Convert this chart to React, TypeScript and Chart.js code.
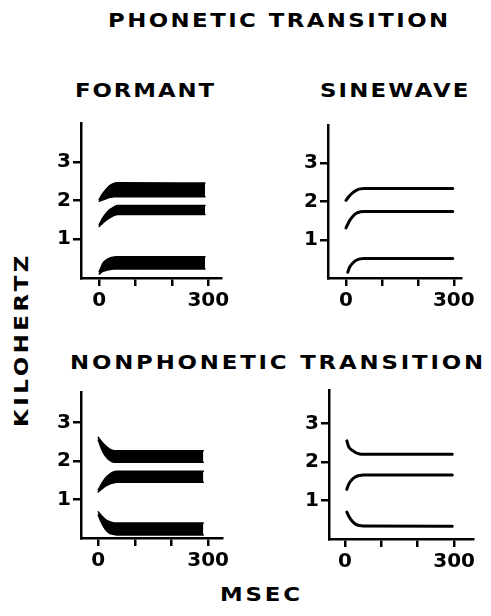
import React, { useEffect, useRef } from "react";
import { Chart, registerables } from "chart.js";

Chart.register(...registerables);

// ---- time bases (ms) ----
const PH_FORMANT_MS = [0, 10, 20, 30, 40, 50, 291];
const PH_SINE_MS = [0, 10, 20, 30, 40, 50, 297];
const PH_SINE_F1_MS = [5, 10, 20, 30, 40, 50, 297];
const NP_FORMANT_MS = [0, 10, 20, 30, 40, 50, 287];
const NP_SINE_MS = [5, 10, 20, 30, 40, 50, 295];

// ---- phonetic transition, formant bands (kHz, upper / lower edge) ----
const PH_F3_HI = [2.03, 2.18, 2.3, 2.39, 2.44, 2.46, 2.45];
const PH_F3_LO = [1.98, 2.02, 2.05, 2.08, 2.1, 2.1, 2.1];
const PH_F2_HI = [1.38, 1.55, 1.68, 1.77, 1.83, 1.87, 1.87];
const PH_F2_LO = [1.33, 1.42, 1.5, 1.56, 1.61, 1.64, 1.64];
const PH_F1_HI = [0.16, 0.38, 0.47, 0.52, 0.54, 0.55, 0.55];
const PH_F1_LO = [0.1, 0.17, 0.2, 0.22, 0.23, 0.23, 0.23];

// ---- phonetic transition, sinewave tones (kHz) ----
const PH_TONE3 = [2.03, 2.15, 2.24, 2.3, 2.33, 2.34, 2.34];
const PH_TONE2 = [1.31, 1.5, 1.62, 1.7, 1.73, 1.74, 1.74];
const PH_TONE1 = [0.15, 0.28, 0.4, 0.47, 0.5, 0.51, 0.51];

// ---- nonphonetic transition, formant bands (kHz) ----
const NP_F3_HI = [2.62, 2.5, 2.4, 2.32, 2.28, 2.27, 2.27];
const NP_F3_LO = [2.55, 2.3, 2.13, 2.03, 1.98, 1.97, 1.97];
const NP_F2_HI = [1.25, 1.42, 1.56, 1.65, 1.71, 1.74, 1.74];
const NP_F2_LO = [1.2, 1.28, 1.35, 1.4, 1.43, 1.45, 1.45];
const NP_F1_HI = [0.68, 0.57, 0.48, 0.43, 0.4, 0.39, 0.39];
const NP_F1_LO = [0.6, 0.38, 0.22, 0.13, 0.1, 0.08, 0.08];

// ---- nonphonetic transition, sinewave tones (kHz) ----
const NP_TONE3 = [2.55, 2.4, 2.3, 2.24, 2.21, 2.2, 2.2];
const NP_TONE2 = [1.29, 1.42, 1.55, 1.62, 1.65, 1.66, 1.66];
const NP_TONE1 = [0.7, 0.6, 0.46, 0.38, 0.35, 0.34, 0.33];

// ---- axis ticks ----
const X_TICKS = [0, 100, 200, 300];
const X_TICK_LABELS = ["0", "", "", "300"];
const Y_TICKS = [1, 2, 3];
const Y_TICK_LABELS = ["1", "2", "3"];

const FONT = "'DejaVu Sans', 'Liberation Sans', sans-serif";
const PAD_TOP = 16;
const PAD_RIGHT = 30;
const Y_AXIS_W = 40;
const X_AXIS_H = 40;

type Curve = { kind: "band"; ms: number[]; hi: number[]; lo: number[] } | { kind: "tone"; ms: number[]; f: number[] };

type Panel = {
  area: { left: number; top: number; right: number; bottom: number };
  xMin: number;
  xMax: number;
  yMax: number;
  curves: Curve[];
};

const zip = (ms: number[], f: number[]) => ms.map((x, i) => ({ x, y: f[i] }));

const PANELS: Panel[] = [
  {
    area: { left: 81, top: 123, right: 221, bottom: 278 },
    xMin: -50, xMax: 335, yMax: 4,
    curves: [
      { kind: "band", ms: PH_FORMANT_MS, hi: PH_F3_HI, lo: PH_F3_LO },
      { kind: "band", ms: PH_FORMANT_MS, hi: PH_F2_HI, lo: PH_F2_LO },
      { kind: "band", ms: PH_FORMANT_MS, hi: PH_F1_HI, lo: PH_F1_LO },
    ],
  },
  {
    area: { left: 328, top: 125, right: 461, bottom: 278 },
    xMin: -50, xMax: 320, yMax: 4,
    curves: [
      { kind: "tone", ms: PH_SINE_MS, f: PH_TONE3 },
      { kind: "tone", ms: PH_SINE_MS, f: PH_TONE2 },
      { kind: "tone", ms: PH_SINE_F1_MS, f: PH_TONE1 },
    ],
  },
  {
    area: { left: 81, top: 392, right: 222, bottom: 538 },
    xMin: -47, xMax: 338, yMax: 3.8,
    curves: [
      { kind: "band", ms: NP_FORMANT_MS, hi: NP_F3_HI, lo: NP_F3_LO },
      { kind: "band", ms: NP_FORMANT_MS, hi: NP_F2_HI, lo: NP_F2_LO },
      { kind: "band", ms: NP_FORMANT_MS, hi: NP_F1_HI, lo: NP_F1_LO },
    ],
  },
  {
    area: { left: 329, top: 390, right: 473, bottom: 539 },
    xMin: -44, xMax: 352, yMax: 3.87,
    curves: [
      { kind: "tone", ms: NP_SINE_MS, f: NP_TONE3 },
      { kind: "tone", ms: NP_SINE_MS, f: NP_TONE2 },
      { kind: "tone", ms: NP_SINE_MS, f: NP_TONE1 },
    ],
  },
];

function buildDatasets(curves: Curve[]) {
  const sets: any[] = [];
  for (const c of curves) {
    if (c.kind === "band") {
      sets.push({
        data: zip(c.ms, c.hi),
        fill: "+1",
        backgroundColor: "#000",
        borderColor: "#000",
        borderWidth: 1.5,
        borderJoinStyle: "round",
        borderCapStyle: "round",
        pointRadius: 0,
        cubicInterpolationMode: "monotone",
      });
      sets.push({
        data: zip(c.ms, c.lo),
        fill: false,
        borderColor: "#000",
        borderWidth: 1.5,
        borderCapStyle: "round",
        pointRadius: 0,
        cubicInterpolationMode: "monotone",
      });
    } else {
      sets.push({
        data: zip(c.ms, c.f),
        fill: false,
        borderColor: "#000",
        borderWidth: 3,
        borderCapStyle: "round",
        pointRadius: 0,
        cubicInterpolationMode: "monotone",
      });
    }
  }
  return sets;
}

function PanelChart({ panel }: { panel: Panel }) {
  const ref = useRef<HTMLCanvasElement>(null);
  const { left, top, right, bottom } = panel.area;
  const width = right - left + Y_AXIS_W + PAD_RIGHT;
  const height = bottom - top + PAD_TOP + X_AXIS_H;

  useEffect(() => {
    if (!ref.current) return;
    const tickFont = { family: FONT, size: 20, weight: "bold" as const };
    const chart = new Chart(ref.current, {
      type: "line",
      data: { datasets: buildDatasets(panel.curves) },
      options: {
        animation: false,
        responsive: false,
        devicePixelRatio: 1,
        layout: { padding: { top: PAD_TOP, right: PAD_RIGHT, left: 0, bottom: 0 } },
        plugins: { legend: { display: false }, tooltip: { enabled: false } },
        elements: { line: { tension: 0.4 } },
        scales: {
          x: {
            type: "linear",
            min: panel.xMin,
            max: panel.xMax,
            afterBuildTicks: (scale: any) => {
              scale.ticks = X_TICKS.map((v) => ({ value: v }));
            },
            afterFit: (scale: any) => {
              scale.height = X_AXIS_H;
            },
            ticks: {
              autoSkip: false,
              maxRotation: 0,
              padding: 3,
              color: "#000",
              font: tickFont,
              callback: (_v: any, i: number) => X_TICK_LABELS[i],
            },
            grid: { drawOnChartArea: false, drawTicks: true, tickLength: 8, color: "#000", lineWidth: 2.5 },
            border: { display: true, color: "#000", width: 2.5 },
          },
          y: {
            type: "linear",
            min: 0,
            max: panel.yMax,
            afterBuildTicks: (scale: any) => {
              scale.ticks = Y_TICKS.map((v) => ({ value: v }));
            },
            afterFit: (scale: any) => {
              scale.width = Y_AXIS_W;
            },
            ticks: {
              autoSkip: false,
              padding: 2,
              color: "#000",
              font: tickFont,
              callback: (_v: any, i: number) => Y_TICK_LABELS[i],
            },
            grid: { drawOnChartArea: false, drawTicks: true, tickLength: 8, color: "#000", lineWidth: 2.5 },
            border: { display: true, color: "#000", width: 2.5 },
          },
        },
      } as any,
    });
    return () => chart.destroy();
  }, [panel]);

  return (
    <canvas
      ref={ref}
      width={width}
      height={height}
      style={{
        position: "absolute",
        left: left - Y_AXIS_W,
        top: top - PAD_TOP,
        width,
        height,
      }}
    />
  );
}

// Wide lettering: glyphs stretched horizontally with modest tracking
const labelStyle: React.CSSProperties = {
  position: "absolute",
  fontFamily: FONT,
  fontWeight: "bold",
  fontSize: 19,
  lineHeight: "19px",
  color: "#000",
  whiteSpace: "nowrap",
  transformOrigin: "0 0",
  transform: "scaleX(1.2)",
};

export default function App() {
  return (
    <div style={{ position: "absolute", left: 0, top: 0, width: 491, height: 616, background: "#fff", overflow: "hidden" }}>
      <div style={{ ...labelStyle, left: 108.2, top: 10.8, letterSpacing: 2.05 }}>PHONETIC TRANSITION</div>
      <div style={{ ...labelStyle, left: 75.2, top: 80.8, letterSpacing: 1.6 }}>FORMANT</div>
      <div style={{ ...labelStyle, left: 320.2, top: 80.8, letterSpacing: 1.83 }}>SINEWAVE</div>
      <div style={{ ...labelStyle, left: 70.2, top: 352.8, letterSpacing: 2.37 }}>NONPHONETIC TRANSITION</div>
      <div style={{ ...labelStyle, left: 220.2, top: 584.8, letterSpacing: 2.4 }}>MSEC</div>
      <div
        style={{
          ...labelStyle,
          left: 11.5,
          top: 426.8,
          letterSpacing: 3.0,
          transform: "rotate(-90deg) scaleX(1.2)",
        }}
      >
        KILOHERTZ
      </div>
      {PANELS.map((p, i) => (
        <PanelChart key={i} panel={p} />
      ))}
    </div>
  );
}
